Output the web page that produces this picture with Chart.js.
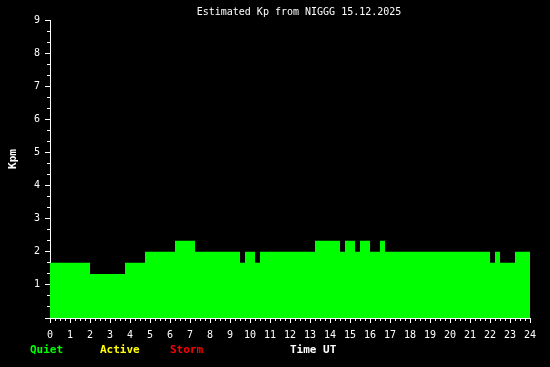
<!DOCTYPE html>
<html>
<head>
<meta charset="utf-8">
<script src="https://cdn.jsdelivr.net/npm/chart.js@4.4.0/dist/chart.umd.min.js"></script>
<style>
  html, body { margin: 0; padding: 0; background: #000; }
  canvas { display: block; }
</style>
</head>
<body>
<canvas id="kpChart" width="550" height="367"></canvas>
<script>
// Estimated Kp, NIGGG, 15.12.2025 - values hold from each hour until the next one
const changeHours = [0, 2, 3.75, 4.75, 6.25, 7.25, 9.5, 9.75, 10.25, 10.5, 13.25, 14.5, 14.75,
  15.25, 15.5, 16, 16.5, 16.75, 22, 22.25, 22.5, 23.25, 24];
const kpValues = [1.67, 1.33, 1.67, 2, 2.33, 2, 1.67, 2, 1.67, 2, 2.33, 2, 2.33,
  2, 2.33, 2, 2.33, 2, 1.67, 2, 1.67, 2, 2];

const chartTitle = 'Estimated Kp from NIGGG 15.12.2025';
const yTitle = 'Kpm';
const xTitle = 'Time UT';
const levelLabels = ['Quiet', 'Active', 'Storm'];
const levelColors = ['#00ff00', '#ffff00', '#ff0000'];

const MONO = '"DejaVu Sans Mono", monospace';

// Extra texts: title, y label, level legend and x label
const textPlugin = {
  id: 'texts',
  afterDraw(chart) {
    const ctx = chart.ctx;
    ctx.save();
    ctx.fillStyle = '#ffffff';
    ctx.font = '10px ' + MONO;
    ctx.textAlign = 'center';
    ctx.textBaseline = 'middle';
    ctx.fillText(chartTitle, 299, 12);

    ctx.font = 'bold 11px ' + MONO;
    ctx.save();
    ctx.translate(13, 159);
    ctx.rotate(-Math.PI / 2);
    ctx.fillText(yTitle, 0, 0);
    ctx.restore();

    ctx.textAlign = 'left';
    ctx.textBaseline = 'alphabetic';
    const legendX = [30, 100, 170];
    levelLabels.forEach((label, i) => {
      ctx.fillStyle = levelColors[i];
      ctx.fillText(label, legendX[i], 352.5);
    });
    ctx.fillStyle = '#ffffff';
    ctx.fillText(xTitle, 290, 352.5);
    ctx.restore();
  }
};

const kpChart = new Chart(document.getElementById('kpChart'), {
  type: 'line',
  data: {
    datasets: [{
      data: changeHours.map((h, i) => ({ x: h, y: kpValues[i] })),
      stepped: true,
      fill: 'origin',
      backgroundColor: '#00ff00',
      borderWidth: 0,
      pointRadius: 0,
      xAxisID: 'x',
      yAxisID: 'y'
    }]
  },
  options: {
    responsive: false,
    animation: false,
    devicePixelRatio: 1,
    layout: { padding: { top: 20, right: 20, left: 0, bottom: 0 } },
    plugins: {
      legend: { display: false },
      title: { display: false },
      tooltip: { enabled: false }
    },
    scales: {
      x: {
        type: 'linear',
        position: 'bottom',
        weight: 0,
        min: 0,
        max: 24,
        afterFit(scale) { scale.height = 49; },
        border: { display: true, color: '#ffffff', width: 1 },
        grid: { drawOnChartArea: false, color: '#ffffff', tickLength: 5 },
        ticks: {
          stepSize: 1,
          autoSkip: false,
          maxRotation: 0,
          padding: 6,
          color: '#ffffff',
          font: { family: MONO, size: 10 }
        }
      },
      xMinor: {
        type: 'linear',
        position: 'bottom',
        weight: -1,
        min: 0,
        max: 24,
        afterFit(scale) { scale.height = 0; },
        border: { display: false },
        grid: { drawOnChartArea: false, color: '#ffffff', tickLength: 3 },
        ticks: { display: false, stepSize: 0.25 }
      },
      y: {
        type: 'linear',
        position: 'left',
        weight: 0,
        min: 0,
        max: 9,
        afterFit(scale) { scale.width = 50; },
        border: { display: true, color: '#ffffff', width: 1 },
        grid: { drawOnChartArea: false, color: '#ffffff', tickLength: 5 },
        ticks: {
          stepSize: 1,
          padding: 5,
          color: '#ffffff',
          font: { family: MONO, size: 10 },
          callback: v => (v === 0 ? '' : v)
        }
      },
      yMinor: {
        type: 'linear',
        position: 'left',
        weight: -1,
        min: 0,
        max: 9,
        afterFit(scale) { scale.width = 0; },
        border: { display: false },
        grid: { drawOnChartArea: false, color: '#ffffff', tickLength: 3 },
        ticks: { display: false, stepSize: 1 / 3 }
      }
    }
  },
  plugins: [textPlugin]
});
</script>
</body>
</html>
